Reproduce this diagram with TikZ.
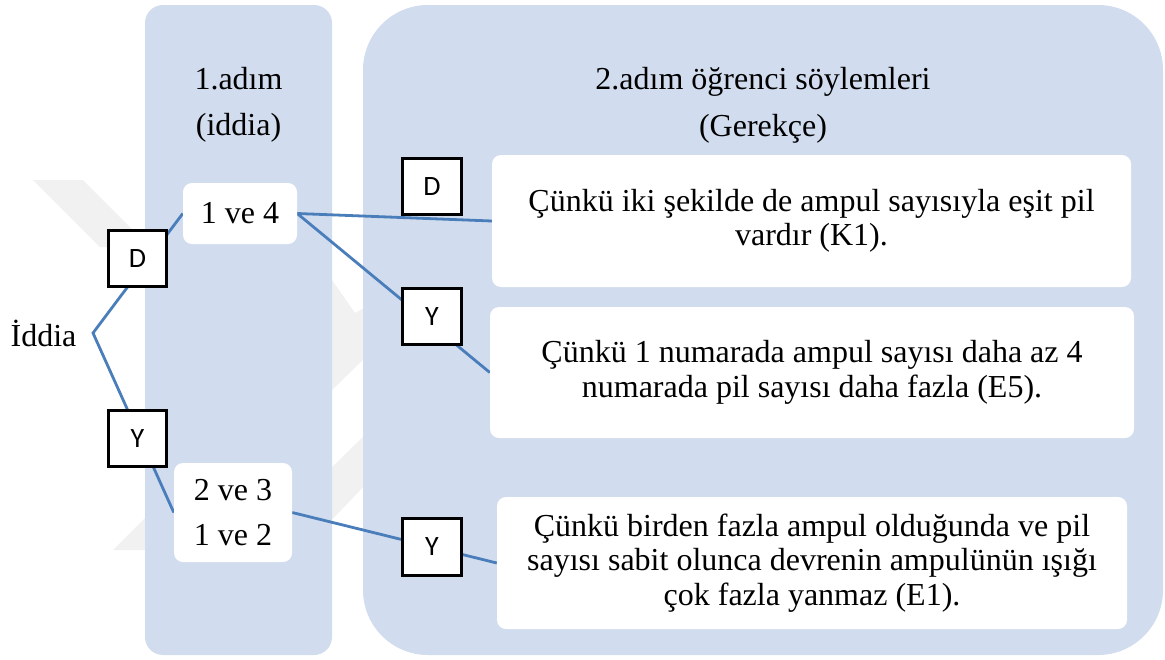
\documentclass[tikz,border=0pt]{standalone}
\usepackage{fontspec}
\setmainfont{Liberation Serif}
\newfontfamily\lblfont{Carlito}
\definecolor{panelc}{HTML}{D1DCEE}
\definecolor{linec}{HTML}{4A7EBB}
\definecolor{wmark}{HTML}{F1F1F1}
\pgfdeclarelayer{back}
\pgfdeclarelayer{mid}
\pgfsetlayers{back,mid,main}
\begin{document}
\begin{tikzpicture}[x=1pt,y=-1pt,
  wbox/.style={fill=white, rounded corners=9pt, inner sep=0pt, font=\fontsize{32}{34.5}\selectfont, align=center},
  lbl/.style={draw=black, line width=2.8pt, fill=white, minimum width=58.5pt, minimum height=56.5pt, inner sep=0pt, font=\lblfont\fontsize{28}{30}\selectfont},
  conn/.style={draw=linec, line width=2.8pt},
  ttl/.style={font=\fontsize{32}{34}\selectfont, inner sep=0pt, anchor=base},
  panel/.style={fill=panelc},
  wm/.style={fill=wmark}]
\useasboundingbox (0,0) rectangle (1165,659);

% boxes
\node[wbox, minimum width=114pt, minimum height=61pt] (a14) at (240,213.5) {1 ve 4};
\node[wbox, minimum width=118pt, minimum height=99pt, font=\fontsize{32}{45}\selectfont] (a23) at (233,512.5) {2 ve 3\\1 ve 2};
\node[wbox, minimum width=639pt, minimum height=132pt] (r1) at (811.5,221) {Çünkü iki şekilde de ampul sayısıyla eşit pil\\vardır (K1).};
\node[wbox, minimum width=644pt, minimum height=131pt] (r2) at (812,372.5) {Çünkü 1 numarada ampul sayısı daha az 4\\numarada pil sayısı daha fazla (E5).};
\node[wbox, minimum width=630pt, minimum height=132pt] (r3) at (812,563) {Çünkü birden fazla ampul olduğunda ve pil\\sayısı sabit olunca devrenin ampulünün ışığı\\çok fazla yanmaz (E1).};

% titles
\node[ttl] (t1a) at (238.5,89) {1.adım};
\node[ttl] (t1b) at (238.5,135) {(iddia)};
\node[ttl] (t2a) at (763,89) {2.adım öğrenci söylemleri};
\node[ttl] (t2b) at (763,136) {(Gerekçe)};

% root
\node[font=\fontsize{32}{34}\selectfont, inner sep=0pt] (iddia) at (43.5,333) {İddia};
\coordinate (iv) at (93,333);

% labels
\node[lbl] (d1) at (137.5,258.5) {D};
\node[lbl] (y1) at (137.5,438.5) {Y};
\node[lbl] (d2) at (432,186.5) {D};
\node[lbl] (y2) at (432,316.5) {Y};
\node[lbl] (y3) at (432,547) {Y};

\begin{pgfonlayer}{back}
  % watermark
  \path[wm] (33,180) -- (83,180) -- (150,247) -- (100,247) -- cycle;
  \path[wm] (325,270) -- (355,313) -- (370,305) -- (370,353) -- (325,397) -- cycle;
  \path[wm] (325,474) -- (370,430) -- (370,480) -- (325,527) -- cycle;
  \path[wm] (113,550) -- (150,513) -- (150,550) -- cycle;
  % panels
  \path[panel, rounded corners=18pt] (145,5) rectangle (332,655);
  \path[panel, rounded corners=65pt] (363,5) rectangle (1163,655);
\end{pgfonlayer}

\begin{pgfonlayer}{mid}
  \draw[conn] (a14.west) -- (iv) -- (a23.west);
  \draw[conn] (a14.east) -- (r1.west);
  \draw[conn] (a14.east) -- (r2.west);
  \draw[conn] (a23.east) -- (r3.west);
\end{pgfonlayer}
\end{tikzpicture}
\end{document}
